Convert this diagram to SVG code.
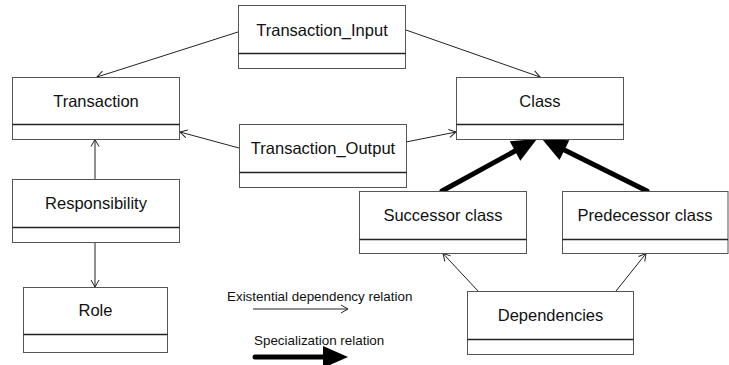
<svg xmlns="http://www.w3.org/2000/svg" width="729" height="365" viewBox="0 0 729 365">
  <style>
    .box { fill: #fff; stroke: #555; stroke-width: 1; }
    .div { stroke: #222; stroke-width: 1.4; }
    .lbl { font-family: "Liberation Sans", Arial, sans-serif; font-size: 16.5px; fill: #111; text-anchor: middle; }
    .note { font-family: "Liberation Sans", Arial, sans-serif; font-size: 13.4px; fill: #111; }
    .dep { stroke: #222; stroke-width: 1; fill: none; marker-end: url(#open); }
    .spec { stroke: #000; stroke-width: 5; stroke-linecap: round; fill: none; marker-end: url(#solid); }
  </style>
  <defs>
    <marker id="open" viewBox="-9 -6 11 12" refX="0" refY="0" markerWidth="11" markerHeight="12" markerUnits="userSpaceOnUse" orient="auto">
      <path d="M-7,-4 L0,0 L-7,4" fill="none" stroke="#222" stroke-width="1"/>
    </marker>
    <marker id="solid" viewBox="-1 -13 28 26" refX="0" refY="0" markerWidth="28" markerHeight="26" markerUnits="userSpaceOnUse" orient="auto">
      <path d="M0,-11 L25,0 L0,11 Z" fill="#000"/>
    </marker>
  </defs>

  <g id="connectors">
    <line class="dep" x1="238" y1="32" x2="97" y2="77"/>
    <line class="dep" x1="406" y1="30" x2="540" y2="77"/>
    <line class="dep" x1="239" y1="148" x2="180" y2="132"/>
    <line class="dep" x1="406" y1="142" x2="456" y2="132"/>
    <line class="dep" x1="95" y1="179" x2="95" y2="139.5"/>
    <line class="dep" x1="95" y1="242" x2="95" y2="287"/>
    <line class="dep" x1="478" y1="291" x2="443" y2="253.5"/>
    <line class="dep" x1="616" y1="291" x2="646" y2="253.5"/>
    <line class="spec" x1="442" y1="191" x2="515" y2="151"/>
    <line class="spec" x1="647" y1="191" x2="564.4" y2="150.1"/>
  </g>

  <g id="transaction-input">
    <rect class="box" x="238.5" y="5.5" width="167" height="63"/>
    <line class="div" x1="238.5" y1="53.5" x2="405.5" y2="53.5"/>
    <text class="lbl" x="322" y="36">Transaction_Input</text>
  </g>
  <g id="transaction">
    <rect class="box" x="12.5" y="77.5" width="167" height="62"/>
    <line class="div" x1="12.5" y1="124.5" x2="179.5" y2="124.5"/>
    <text class="lbl" x="96" y="106.5">Transaction</text>
  </g>
  <g id="class">
    <rect class="box" x="456.5" y="77.5" width="167" height="62"/>
    <line class="div" x1="456.5" y1="124.5" x2="623.5" y2="124.5"/>
    <text class="lbl" x="540" y="106.5">Class</text>
  </g>
  <g id="transaction-output">
    <rect class="box" x="239.5" y="124.5" width="167" height="63"/>
    <line class="div" x1="239.5" y1="172.5" x2="406.5" y2="172.5"/>
    <text class="lbl" x="323" y="154">Transaction_Output</text>
  </g>
  <g id="responsibility">
    <rect class="box" x="12.5" y="179.5" width="167" height="63"/>
    <line class="div" x1="12.5" y1="227.5" x2="179.5" y2="227.5"/>
    <text class="lbl" x="96" y="209">Responsibility</text>
  </g>
  <g id="role">
    <rect class="box" x="23.5" y="287.5" width="144" height="65"/>
    <line class="div" x1="23.5" y1="334.5" x2="167.5" y2="334.5"/>
    <text class="lbl" x="95.5" y="316">Role</text>
  </g>
  <g id="successor-class">
    <rect class="box" x="359.5" y="191.5" width="167" height="62"/>
    <line class="div" x1="359.5" y1="239.5" x2="526.5" y2="239.5"/>
    <text class="lbl" x="443" y="221">Successor class</text>
  </g>
  <g id="predecessor-class">
    <rect class="box" x="562.5" y="191.5" width="165.5" height="62"/>
    <line class="div" x1="562.5" y1="239.5" x2="728" y2="239.5"/>
    <text class="lbl" x="645" y="221">Predecessor class</text>
  </g>
  <g id="dependencies">
    <rect class="box" x="467.5" y="291.5" width="166" height="63"/>
    <line class="div" x1="467.5" y1="339.5" x2="633.5" y2="339.5"/>
    <text class="lbl" x="550.5" y="321">Dependencies</text>
  </g>

  <g id="legend">
    <text class="note" x="227" y="301">Existential dependency relation</text>
    <line class="dep" x1="253" y1="309" x2="348" y2="309"/>
    <text class="note" x="254" y="345">Specialization relation</text>
    <line class="spec" x1="255" y1="357" x2="323" y2="357"/>
  </g>
</svg>
